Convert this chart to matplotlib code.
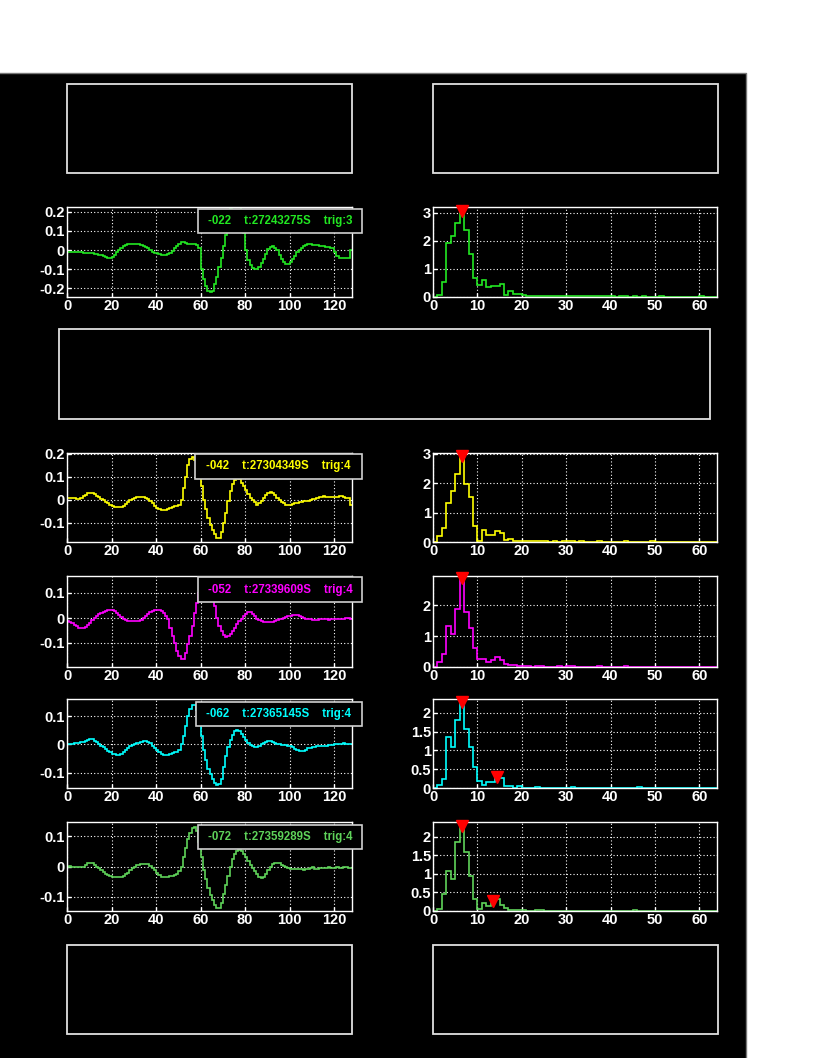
import numpy as np
import matplotlib.pyplot as plt
from matplotlib.patches import Rectangle
from matplotlib.lines import Line2D
from matplotlib.ticker import MultipleLocator, FuncFormatter

plt.rcParams['font.family'] = ['Liberation Sans', 'DejaVu Sans']
plt.rcParams['font.weight'] = 'bold'

W, H = 817, 1058

# channel labels and colours
labels = ["-022    t:27243275S    trig:3",
          "-042    t:27304349S    trig:4",
          "-052    t:27339609S    trig:4",
          "-062    t:27365145S    trig:4",
          "-072    t:27359289S    trig:4"]
colors = ["#22e822", "#ffff00", "#ff00ff", "#00ffff", "#5fd35a"]

# waveforms, 128 samples each
wave1 = [-0.010, -0.010, -0.011, -0.012, -0.011, -0.010, -0.012, -0.014,
         -0.016, -0.018, -0.017, -0.018, -0.020, -0.022, -0.025, -0.027,
         -0.031, -0.036, -0.041, -0.044, -0.036, -0.024, -0.010, 0.002,
         0.012, 0.019, 0.025, 0.029, 0.032, 0.034, 0.034, 0.033,
         0.031, 0.027, 0.021, 0.014, 0.008, 0.000, -0.008, -0.014,
         -0.018, -0.022, -0.025, -0.027, -0.026, -0.022, -0.015, -0.005,
         0.008, 0.020, 0.032, 0.040, 0.041, 0.037, 0.034, 0.032,
         0.030, 0.030, 0.026, 0.012, -0.100, -0.150, -0.190, -0.215,
         -0.222, -0.215, -0.180, -0.140, -0.090, -0.040, 0.020, 0.080,
         0.150, 0.220, 0.280, 0.310, 0.300, 0.250, 0.170, 0.090,
         0.000, -0.050, -0.080, -0.095, -0.100, -0.100, -0.090, -0.070,
         -0.045, -0.020, 0.005, 0.017, 0.020, 0.012, 0.000, -0.025,
         -0.045, -0.062, -0.072, -0.072, -0.062, -0.045, -0.030, -0.012,
         0.000, 0.012, 0.020, 0.026, 0.030, 0.030, 0.028, 0.025,
         0.024, 0.022, 0.020, 0.020, 0.018, 0.015, 0.012, 0.008,
         -0.010, -0.030, -0.040, -0.040, -0.040, -0.040, -0.040, 0.000]
wave2 = [0.010, 0.010, 0.010, 0.008, 0.006, 0.005, 0.008, 0.015,
         0.022, 0.028, 0.032, 0.030, 0.025, 0.018, 0.012, 0.005,
         0.000, -0.008, -0.015, -0.020, -0.025, -0.030, -0.032, -0.032,
         -0.030, -0.025, -0.018, -0.010, -0.002, 0.005, 0.010, 0.013,
         0.014, 0.014, 0.012, 0.008, 0.002, -0.005, -0.015, -0.025,
         -0.033, -0.040, -0.044, -0.045, -0.042, -0.038, -0.035, -0.032,
         -0.028, -0.025, -0.020, 0.000, 0.050, 0.100, 0.150, 0.180,
         0.185, 0.175, 0.150, 0.110, 0.060, 0.000, -0.040, -0.080,
         -0.110, -0.130, -0.150, -0.165, -0.165, -0.140, -0.100, -0.055,
         -0.005, 0.040, 0.068, 0.085, 0.095, 0.090, 0.075, 0.060,
         0.042, 0.025, 0.010, 0.000, -0.010, -0.020, -0.015, -0.005,
         0.008, 0.020, 0.032, 0.036, 0.030, 0.020, 0.010, 0.000,
         -0.010, -0.015, -0.020, -0.020, -0.020, -0.018, -0.015, -0.012,
         -0.010, -0.008, -0.006, -0.005, -0.003, 0.000, 0.002, 0.005,
         0.008, 0.012, 0.014, 0.015, 0.014, 0.012, 0.012, 0.012,
         0.012, 0.014, 0.015, 0.015, 0.013, 0.010, 0.008, -0.020]
wave3 = [-0.013, -0.016, -0.020, -0.026, -0.032, -0.038, -0.040, -0.038,
         -0.034, -0.027, -0.018, -0.008, 0.002, 0.010, 0.016, 0.020,
         0.024, 0.028, 0.031, 0.034, 0.033, 0.028, 0.020, 0.012,
         0.005, -0.002, -0.006, -0.010, -0.012, -0.013, -0.013, -0.012,
         -0.010, -0.006, 0.000, 0.008, 0.016, 0.024, 0.030, 0.034,
         0.034, 0.032, 0.028, 0.020, 0.010, -0.005, -0.040, -0.070,
         -0.100, -0.130, -0.150, -0.165, -0.162, -0.140, -0.105, -0.070,
         -0.030, 0.020, 0.060, 0.100, 0.140, 0.160, 0.165, 0.150,
         0.120, 0.085, 0.050, 0.000, -0.030, -0.052, -0.068, -0.075,
         -0.072, -0.065, -0.052, -0.038, -0.025, -0.012, -0.002, 0.008,
         0.018, 0.026, 0.025, 0.018, 0.008, -0.002, -0.008, -0.012,
         -0.014, -0.015, -0.016, -0.016, -0.015, -0.012, -0.008, -0.005,
         -0.002, 0.002, 0.005, 0.008, 0.010, 0.012, 0.013, 0.012,
         0.010, 0.006, 0.002, -0.002, -0.004, -0.005, -0.006, -0.006,
         -0.006, -0.005, -0.004, -0.004, -0.005, -0.006, -0.005, -0.004,
         -0.004, -0.003, -0.003, -0.002, -0.002, -0.001, -0.001, -0.002]
wave4 = [0.002, 0.002, 0.003, 0.004, 0.005, 0.006, 0.008, 0.010,
         0.013, 0.017, 0.020, 0.018, 0.014, 0.008, 0.002, -0.004,
         -0.010, -0.016, -0.022, -0.028, -0.032, -0.035, -0.036, -0.036,
         -0.034, -0.028, -0.020, -0.012, -0.006, -0.002, 0.002, 0.005,
         0.007, 0.010, 0.012, 0.013, 0.010, 0.004, -0.004, -0.012,
         -0.020, -0.028, -0.034, -0.038, -0.038, -0.036, -0.034, -0.031,
         -0.028, -0.025, -0.018, 0.000, 0.030, 0.065, 0.100, 0.125,
         0.140, 0.140, 0.120, 0.080, 0.030, -0.020, -0.055, -0.085,
         -0.105, -0.120, -0.135, -0.143, -0.140, -0.120, -0.080, -0.040,
         -0.010, 0.015, 0.032, 0.048, 0.052, 0.046, 0.036, 0.026,
         0.016, 0.006, -0.002, -0.006, -0.009, -0.010, -0.006, 0.000,
         0.005, 0.010, 0.012, 0.011, 0.009, 0.006, 0.003, 0.000,
         -0.001, -0.002, -0.003, -0.004, -0.006, -0.010, -0.015, -0.020,
         -0.023, -0.024, -0.022, -0.018, -0.014, -0.011, -0.009, -0.008,
         -0.007, -0.006, -0.005, -0.005, -0.004, -0.003, -0.002, -0.001,
         0.000, 0.001, 0.002, 0.003, 0.004, 0.003, 0.002, 0.000]
wave5 = [0.000, 0.001, 0.000, 0.000, 0.000, -0.002, -0.003, 0.000,
         0.005, 0.010, 0.013, 0.011, 0.006, 0.000, -0.006, -0.012,
         -0.018, -0.024, -0.028, -0.031, -0.034, -0.035, -0.036, -0.036,
         -0.036, -0.032, -0.026, -0.020, -0.013, -0.006, 0.000, 0.004,
         0.006, 0.008, 0.009, 0.009, 0.007, 0.003, -0.004, -0.012,
         -0.020, -0.028, -0.033, -0.035, -0.035, -0.034, -0.032, -0.030,
         -0.027, -0.023, -0.015, 0.000, 0.030, 0.062, 0.090, 0.110,
         0.125, 0.130, 0.115, 0.080, 0.030, -0.010, -0.040, -0.070,
         -0.092, -0.110, -0.125, -0.136, -0.135, -0.120, -0.090, -0.060,
         -0.030, 0.000, 0.025, 0.040, 0.050, 0.055, 0.050, 0.040,
         0.030, 0.018, 0.005, -0.005, -0.015, -0.025, -0.033, -0.038,
         -0.035, -0.025, -0.012, 0.000, 0.008, 0.012, 0.012, 0.010,
         0.006, 0.002, -0.002, -0.005, -0.008, -0.008, -0.008, -0.008,
         -0.008, -0.009, -0.010, -0.009, -0.007, -0.004, -0.003, -0.007,
         -0.008, -0.006, -0.005, -0.004, -0.004, -0.003, -0.004, -0.005,
         -0.004, -0.003, -0.004, -0.005, -0.003, -0.002, -0.004, -0.005]

# spectra, 64 bins each
hist1 = [0, 0.08, 0.52, 1.94, 2.18, 2.65, 3.10, 2.40, 1.52, 0.67, 0.44, 0.61, 0.36, 0.38, 0.38, 0.48,
         0.08, 0.20, 0.12, 0.10, 0.06, 0.05, 0.04, 0.04, 0.05, 0.03, 0.03, 0.02, 0.03, 0.04, 0.02, 0.02,
         0.03, 0.02, 0.02, 0.02, 0.02, 0.03, 0.04, 0.02, 0.02, 0.01, 0.02, 0.02, 0.01, 0.02, 0.01, 0.02,
         0.01, 0.01, 0.01, 0.02, 0.01, 0.01, 0.01, 0.01, 0.01, 0.01, 0.01, 0.01, 0.02, 0.01, 0.01, 0.01]
hist2 = [0, 0.20, 0.48, 1.32, 1.74, 2.30, 2.93, 1.99, 1.53, 0.54, 0.02, 0.40, 0.23, 0.25, 0.37, 0.29,
         0.06, 0.10, 0.05, 0.03, 0.05, 0.02, 0.03, 0.03, 0.02, 0.02, 0.01, 0.02, 0.01, 0.02, 0.02, 0.02,
         0.01, 0.02, 0.01, 0.01, 0.01, 0.02, 0.01, 0.01, 0.01, 0.01, 0.01, 0.02, 0.01, 0.01, 0.01, 0.01,
         0.01, 0.02, 0.01, 0.01, 0.01, 0.01, 0.01, 0.01, 0.01, 0.01, 0.01, 0.01, 0.01, 0.01, 0.01, 0.01]
hist3 = [0, 0.15, 0.43, 1.34, 1.08, 1.89, 2.87, 1.78, 1.26, 0.60, 0.25, 0.25, 0.15, 0.22, 0.33, 0.24,
         0.11, 0.07, 0.08, 0.03, 0.02, 0.02, 0.01, 0.02, 0.02, 0.01, 0.01, 0.01, 0.02, 0.01, 0.02, 0.02,
         0.01, 0.01, 0.01, 0.01, 0.01, 0.02, 0.01, 0.01, 0.01, 0.01, 0.01, 0.02, 0.01, 0.01, 0.01, 0.01,
         0.01, 0.01, 0.01, 0.01, 0.01, 0.01, 0.01, 0.01, 0.01, 0.01, 0.01, 0.01, 0.01, 0.01, 0.01, 0.01]
hist4 = [0, 0.07, 0.24, 1.35, 1.08, 1.80, 2.31, 1.56, 1.08, 0.55, 0.19, 0.07, 0.17, 0.17, 0.26, 0.26,
         0.06, 0.06, 0.00, 0.05, 0.01, 0.01, 0.01, 0.02, 0.01, 0.01, 0.01, 0.01, 0.01, 0.01, 0.01, 0.02,
         0.01, 0.01, 0.01, 0.01, 0.01, 0.01, 0.01, 0.01, 0.01, 0.01, 0.01, 0.01, 0.01, 0.01, 0.02, 0.01,
         0.01, 0.01, 0.01, 0.01, 0.01, 0.01, 0.01, 0.01, 0.01, 0.01, 0.01, 0.01, 0.01, 0.01, 0.01, 0.01]
hist5 = [0, 0.06, 0.45, 1.08, 0.86, 1.87, 2.32, 1.60, 0.94, 0.32, 0.06, 0.21, 0.14, 0.22, 0.33, 0.16,
         0.09, 0.04, 0.02, 0.02, 0.02, 0.01, 0.01, 0.02, 0.02, 0.01, 0.01, 0.01, 0.01, 0.01, 0.01, 0.01,
         0.01, 0.01, 0.01, 0.01, 0.01, 0.01, 0.01, 0.01, 0.01, 0.01, 0.01, 0.01, 0.01, 0.02, 0.01, 0.01,
         0.01, 0.01, 0.01, 0.01, 0.01, 0.01, 0.01, 0.01, 0.01, 0.01, 0.01, 0.01, 0.01, 0.01, 0.01, 0.01]

# found peaks (red markers)
peaks_x = [[6.5], [6.5], [6.5], [6.5, 14.5], [6.5, 13.5]]
peaks_y = [[3.05], [2.93], [2.87], [2.28, 0.30], [2.30, 0.27]]

waves = [wave1, wave2, wave3, wave4, wave5]
hists = [hist1, hist2, hist3, hist4, hist5]
wave_ylims = [(-0.247, 0.226), (-0.183, 0.204), (-0.196, 0.168), (-0.153, 0.16), (-0.146, 0.146)]
hist_ymax = [3.21, 3.03, 2.94, 2.37, 2.4]
hist_step = [1, 1, 1, 0.5, 0.5]

# pixel layout (top, bottom) of each row
rows = [(207, 297), (453, 542), (576, 667), (699, 788), (822, 911)]
label_boxes = [(198, 209, 362, 233), (195, 454, 362, 479), (198, 577, 362, 602),
               (196, 702, 362, 726), (198, 825, 362, 849)]
empty_boxes = [(67, 84, 352, 173), (433, 84, 718, 173), (59, 329, 710, 419),
               (67, 945, 352, 1034), (433, 945, 718, 1034)]


def frac(x0, y0, x1, y1):
    return [x0 / W, 1 - y1 / H, (x1 - x0) / W, (y1 - y0) / H]


fmt = FuncFormatter(lambda v, p: f"{round(v, 6) + 0.0:g}")


def style(ax):
    ax.set_facecolor('black')
    for s in ax.spines.values():
        s.set_color('white')
        s.set_linewidth(1.0)
    ax.grid(True, color='white', linestyle=(0, (1, 2)), linewidth=0.8)
    ax.set_axisbelow(True)
    ax.tick_params(which='major', direction='in', colors='white', labelsize=10.5,
                   length=3, width=1, pad=1.5)
    ax.yaxis.set_major_formatter(fmt)
    for t in ax.get_xticklabels() + ax.get_yticklabels():
        t.set_fontweight('bold')


fig = plt.figure(figsize=(W / 100, H / 100), dpi=100)
fig.patch.set_facecolor('white')
fig.add_artist(Rectangle((0, 0), 746 / W, 1 - 73 / H, transform=fig.transFigure,
                         facecolor='black', edgecolor='none', zorder=-10))
fig.add_artist(Line2D([0, 746 / W, 746 / W], [1 - 73 / H, 1 - 73 / H, 0],
                      transform=fig.transFigure, color='#777777', lw=1, zorder=-9))

for (x0, y0, x1, y1) in empty_boxes:
    fig.add_artist(Rectangle((x0 / W, 1 - y1 / H), (x1 - x0) / W, (y1 - y0) / H,
                             transform=fig.transFigure, facecolor='none',
                             edgecolor='#e0e0e0', lw=1.3))

for i in range(5):
    top, bot = rows[i]
    # waveform
    ax = fig.add_axes(frac(67, top, 352, bot))
    ax.stairs(waves[i], np.arange(129), color=colors[i], lw=1.2, baseline=None)
    ax.set_xlim(0, 128)
    ax.set_ylim(*wave_ylims[i])
    ax.xaxis.set_major_locator(MultipleLocator(20))
    ax.yaxis.set_major_locator(MultipleLocator(0.1))
    style(ax)

    # spectrum
    ax2 = fig.add_axes(frac(433, top, 717, bot))
    ax2.stairs(hists[i], np.arange(65), color=colors[i], lw=1.2, baseline=None)
    ax2.plot(peaks_x[i], peaks_y[i], linestyle='none', marker='v', color='red',
             markersize=8, clip_on=False, zorder=5)
    ax2.set_xlim(0, 64)
    ax2.set_ylim(0, hist_ymax[i])
    ax2.xaxis.set_major_locator(MultipleLocator(10))
    ax2.yaxis.set_major_locator(MultipleLocator(hist_step[i]))
    style(ax2)

    # label box
    x0, y0, x1, y1 = label_boxes[i]
    fig.add_artist(Rectangle((x0 / W, 1 - y1 / H), (x1 - x0) / W, (y1 - y0) / H,
                             transform=fig.transFigure, facecolor='black',
                             edgecolor='#d0d0d0', lw=1.2, zorder=4))
    fig.text((x0 + x1) / 2 / W, 1 - (y0 + y1) / 2 / H, labels[i], color=colors[i],
             ha='center', va='center', fontsize=8.3, fontweight='bold', zorder=5)

fig.savefig('out.png', dpi=100, facecolor=fig.get_facecolor())
